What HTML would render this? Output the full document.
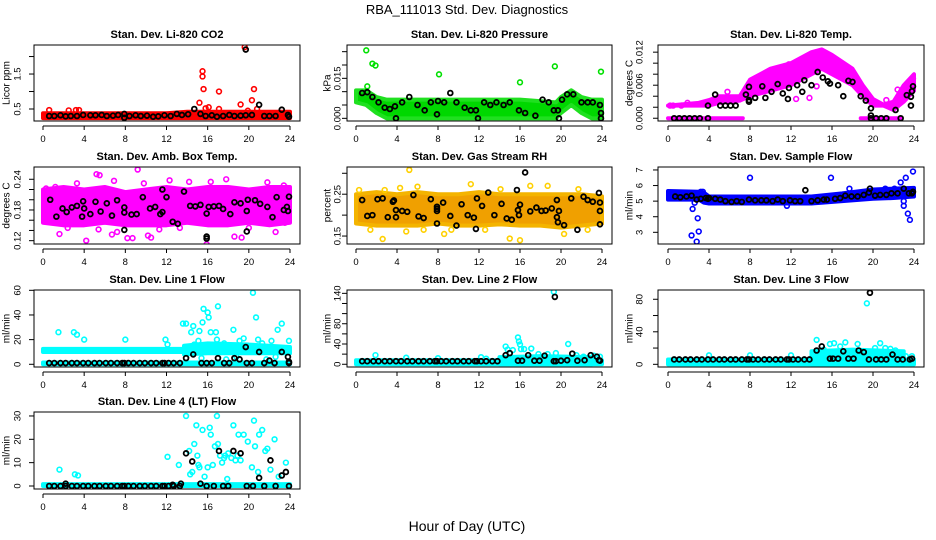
<!DOCTYPE html>
<html><head><meta charset="utf-8"><style>
html,body{margin:0;padding:0;background:#fff;}
svg{display:block;font-family:"Liberation Sans",sans-serif;}
</style></head><body>
<svg id="chart" width="936" height="540" viewBox="0 0 936 540">
<text x="467" y="14" text-anchor="middle" font-size="13">RBA_111013  Std. Dev. Diagnostics</text>
<text x="467" y="531" text-anchor="middle" font-size="14">Hour of Day (UTC)</text>
</svg>
<script>
// ---------- data ----------
const xTicks=[0,4,8,12,16,20,24];
const xTickLabels=['0','4','8','12','16','20','24'];
const regHours=[0.6,1.1,1.7,2.2,2.8,3.3,3.9,4.4,5.0,5.5,6.1,6.6,7.2,7.7,7.9,8.3,8.8,9.4,9.9,10.5,11.0,11.6,11.8,12.2,12.7,13.3];

// P1 CO2
const co2Ticks=[0.5,1,1.5,2];
const co2TickLabels=['0.5','','1.5',''];
const co2BandX=[0,12,14,24], co2BandLo=[0.24,0.24,0.24,0.24], co2BandHi=[0.38,0.38,0.42,0.42];
const co2Pts=[[0.6,0.47],[2.5,0.46],[3.2,0.47],[3.5,0.47],[15.2,0.68],[15.5,1.43],[15.5,1.58],[15.6,1.07],[15.8,0.52],[16.1,0.55],[17.1,1.0],[17.1,0.5],[19.2,0.63],[19.6,2.27],[20.3,0.75],[20.5,1.07],[20.8,0.5],[19.9,0.45]];
const co2Blk=[[0.6,0.3],[1.1,0.3],[1.7,0.32],[2.2,0.29],[2.7,0.3],[3.3,0.3],[3.9,0.33],[4.6,0.32],[5.1,0.32],[5.7,0.33],[6.2,0.3],[6.8,0.31],[7.3,0.33],[7.9,0.36],[7.9,0.25],[8.4,0.3],[9,0.32],[9.5,0.3],[10.1,0.31],[10.7,0.28],[11.2,0.29],[11.8,0.32],[12.4,0.3],[13,0.36],[13.5,0.33],[14.1,0.35],[14.7,0.5],[15.3,0.36],[15.8,0.3],[16.4,0.32],[16.9,0.28],[17.5,0.3],[18.1,0.33],[18.6,0.3],[19.2,0.31],[19.7,2.2],[19.7,0.32],[20.3,0.33],[21,0.62],[21.5,0.3],[22,0.3],[22.6,0.3],[23.2,0.48],[23.8,0.33],[23.9,0.28]];

// P2 Pressure
const presTicks=[0,0.005,0.01,0.015,0.02,0.025];
const presTickLabels=['0.000','','','0.015','',''];
const presBandX=[0,1,2,3,4,8,12,16,19.5,20,21,22,23,24];
const presBandLo=[0.006,0.005,0.002,0,0,0,0,0,0,0.002,0.005,0.002,0,0];
const presBandHi=[0.0105,0.0105,0.008,0.007,0.007,0.007,0.007,0.007,0.006,0.008,0.0105,0.008,0.007,0.007];
const presPts=[[1,0.0255],[1.1,0.012],[1.6,0.0205],[1.9,0.0198],[8.1,0.0165],[16,0.0135],[19.4,0.0195],[23.9,0.0175]];
const presBlk=[[0.6,0.0095],[1.1,0.0098],[1.6,0.008],[2.2,0.006],[2.8,0.004],[3.3,0.0035],[3.8,0.0045],[3.9,0],[4.5,0.006],[5.2,0.008],[6,0.005],[6.7,0.003],[7.3,0.006],[7.9,0.0015],[8,0.0065],[8.6,0.006],[9.2,0.0095],[9.8,0.006],[10.6,0.004],[11.2,0.003],[11.7,0.003],[11.9,0],[12.5,0.006],[13.1,0.005],[13.7,0.006],[14.4,0.005],[15,0.006],[15.9,0.003],[16.5,0.002],[17.5,0.001],[18.2,0.007],[18.8,0.006],[19.3,0.003],[19.7,0.003],[19.8,0],[20.1,0.007],[20.6,0.009],[21.2,0.009],[22,0.006],[22.6,0.006],[23.1,0.006],[23.8,0.005],[23.9,0.002],[23.9,0]];

// P3 Li-820 Temp
const tempTicks=[0,0.002,0.004,0.006,0.008,0.010,0.012];
const tempTickLabels=['0.000','','','0.006','','','0.012'];
const tempBandX=[0,3,4,5,7,8,10,12,14,15,16,18,19,20,21,22,23,24];
const tempBandLo=[0.0023,0.0023,0.0023,0.0028,0.0032,0.004,0.005,0.006,0.008,0.009,0.008,0.006,0.004,0.0023,0.0023,0.0015,0.003,0.005];
const tempBandHi=[0.0023,0.0028,0.0033,0.004,0.004,0.007,0.009,0.010,0.012,0.0125,0.0115,0.009,0.006,0.0035,0.0025,0.003,0.006,0.008];
const tempZeroX=[0,7.3], tempZeroLo=[0,0], tempZeroHi=[0,0];
const tempZero2X=[18.8,22.7], tempZero2Lo=[0,0], tempZero2Hi=[0,0];
const tempPts=[[0.2,0.0023],[0.5,0.0023],[1.3,0.0023],[1.9,0.0028],[5.8,0.0048],[8.5,0.0068],[9.3,0.0078],[11.6,0.0088],[11.8,0.0098],[12.5,0.0035],[13.8,0.0037],[14.5,0.0058],[19.6,0.0035],[20.2,0.0028],[21.3,0.0033],[22.4,0.0052],[23.9,0.0072]];
const tempBlk=[[0.6,0],[1.1,0],[1.6,0],[2.1,0],[2.6,0],[3.1,0],[3.9,0],[3.9,0.0023],[4.6,0.0043],[5.1,0.0023],[5.6,0.0023],[6.1,0.0023],[6.6,0.0023],[7.6,0.0043],[7.9,0.003],[7.9,0.0033],[7.9,0.0057],[8.5,0.0037],[9.2,0.0058],[9.5,0.0037],[10.1,0.0048],[10.7,0.0062],[11.2,0.0045],[11.7,0.0035],[11.8,0.0055],[12.6,0.006],[13.1,0.0048],[13.3,0.0069],[14,0.006],[14.6,0.0084],[15.1,0.0074],[15.6,0.0067],[15.8,0.0063],[16.6,0.006],[17.1,0.004],[17.6,0.0068],[18,0.0066],[18.8,0.004],[19.3,0.0032],[19.8,0.0018],[19.8,0.0005],[19.8,0],[20.3,0],[20.8,0],[21.3,0],[22.2,0.0015],[22.7,0],[23.3,0.0042],[23.7,0.0023],[23.7,0.0039],[23.8,0.0049],[23.9,0.0058]];

// P4 Amb Box Temp
const ambTicks=[0.12,0.14,0.16,0.18,0.20,0.22,0.24];
const ambTickLabels=['0.12','','','0.18','','','0.24'];
const ambBandX=[0,2,4,6,8,10,12,14,16,18,20,22,24];
const ambBandLo=[0.155,0.15,0.15,0.155,0.15,0.15,0.15,0.155,0.15,0.15,0.155,0.15,0.155];
const ambBandHi=[0.22,0.225,0.22,0.225,0.215,0.22,0.225,0.22,0.225,0.225,0.22,0.225,0.225];
const ambPts=[[0.3,0.222],[1.2,0.225],[1.6,0.133],[3.3,0.232],[4.2,0.12],[5.2,0.25],[5.5,0.248],[6.7,0.132],[7.2,0.137],[8.2,0.125],[8.7,0.125],[9.2,0.259],[10.2,0.13],[10.5,0.126],[12.3,0.238],[13.8,0.105],[14.2,0.235],[15.9,0.113],[16.3,0.235],[17.8,0.24],[18.6,0.128],[19.3,0.126],[21.8,0.234],[22.6,0.137],[23.4,0.228],[23.7,0.223],[23.5,0.155],[2.4,0.145],[5.4,0.142],[11.3,0.142],[13.3,0.145],[20,0.145],[9.8,0.232],[6.9,0.237]];
const ambBlk=[[0.7,0.2],[1.3,0.167],[1.9,0.183],[2.3,0.176],[2.8,0.185],[3.3,0.188],[3.8,0.167],[3.9,0.197],[4.0,0.183],[4.6,0.172],[5.1,0.196],[5.6,0.177],[6.2,0.193],[6.7,0.169],[7.2,0.199],[7.9,0.141],[7.9,0.175],[7.9,0.185],[8.6,0.171],[9.1,0.172],[9.7,0.205],[10.4,0.183],[10.9,0.186],[11.4,0.172],[11.6,0.176],[11.6,0.22],[12,0.205],[12.6,0.157],[13.1,0.153],[13.7,0.216],[14.3,0.188],[14.8,0.187],[15.3,0.19],[15.9,0.124],[15.9,0.128],[15.9,0.173],[16.1,0.186],[16.6,0.187],[17.1,0.188],[17.5,0.182],[18.2,0.172],[18.6,0.195],[19.2,0.193],[19.8,0.178],[19.8,0.138],[19.9,0.2],[20.6,0.199],[21.1,0.192],[21.8,0.186],[22.3,0.166],[22.7,0.205],[23.4,0.18],[23.7,0.186],[23.8,0.178],[23.9,0.206]];

// P5 Gas Stream RH
const rhTicks=[0.15,0.20,0.25,0.30];
const rhTickLabels=['0.15','','0.25',''];
const rhBandX=[0,2,4,6,8,10,12,14,16,18,20,22,24];
const rhBandLo=[0.18,0.175,0.175,0.175,0.18,0.175,0.175,0.178,0.175,0.175,0.17,0.175,0.18];
const rhBandHi=[0.25,0.255,0.25,0.255,0.25,0.25,0.255,0.25,0.25,0.25,0.25,0.25,0.245];
const rhPts=[[5.2,0.308],[1.4,0.165],[2.6,0.143],[4.9,0.161],[6.0,0.268],[8.6,0.155],[11.2,0.274],[16.0,0.14],[15.0,0.144],[17.0,0.27],[18.7,0.27],[20.3,0.155],[21.7,0.262],[22.6,0.165],[0.3,0.26],[2.8,0.26],[14.1,0.262],[6.6,0.165],[9.3,0.165],[12.6,0.165],[4.3,0.265]];
const rhBlk=[[0.6,0.236],[1.1,0.198],[1.6,0.2],[2.1,0.238],[2.6,0.24],[3.1,0.195],[3.6,0.232],[3.7,0.235],[3.9,0.195],[3.9,0.212],[4.5,0.21],[5.0,0.208],[5.6,0.248],[6.1,0.197],[6.6,0.193],[7.3,0.238],[7.9,0.18],[7.9,0.21],[7.9,0.215],[7.9,0.22],[8.5,0.23],[9.2,0.198],[9.8,0.175],[10.3,0.226],[10.9,0.2],[11.5,0.194],[11.7,0.167],[11.8,0.24],[12.3,0.222],[12.9,0.254],[13.5,0.2],[14.2,0.227],[14.7,0.192],[15.2,0.189],[15.7,0.26],[15.8,0.212],[15.9,0.2],[16.0,0.225],[16.5,0.302],[17.0,0.209],[17.6,0.218],[18.1,0.21],[18.5,0.211],[19.1,0.216],[19.6,0.236],[19.6,0.195],[19.7,0.183],[19.8,0.21],[20.3,0.176],[21.0,0.24],[21.6,0.165],[22.2,0.244],[22.6,0.236],[23.1,0.232],[23.7,0.253],[23.8,0.23],[23.8,0.21],[23.8,0.178]];

// P6 Sample Flow
const sfTicks=[3,4,5,6,7];
const sfTickLabels=['3','4','5','6','7'];
const sfBandX=[0,3,3.5,4,14,17,20,22,24];
const sfBandLo=[5.1,5.1,4.9,4.85,4.85,5.0,5.15,5.2,5.3];
const sfBandHi=[5.65,5.6,5.55,5.3,5.3,5.5,5.75,5.8,5.85];
const sfPts=[[2.3,2.8],[2.4,4.5],[2.6,4.9],[2.8,2.4],[2.9,3.9],[3.0,3.05],[3.2,5.6],[3.4,5.6],[8.0,6.5],[11.6,4.7],[15.9,6.5],[17.7,5.8],[21.2,5.8],[22.1,5.8],[22.7,6.2],[23,4.7],[23,5],[23.2,6.5],[23.4,4.2],[23.6,3.8],[23.9,6.9]];
const sfBlk=[[0.7,5.3],[1.2,5.25],[1.8,5.3],[2.3,5.35],[2.8,5.1],[3.2,5.15],[3.7,5.2],[3.9,5.15],[4.0,5.2],[4.6,5.15],[5.1,5.1],[5.6,5.0],[6.2,4.95],[6.7,5.0],[7.2,4.95],[7.9,5.1],[8.5,5.05],[9.1,5.05],[9.6,5.05],[10.2,5.0],[10.7,5.1],[11.2,5.0],[11.9,5.05],[12.4,5.0],[12.9,5.0],[13.4,5.7],[14.0,5.0],[14.6,5.05],[15.2,5.1],[15.5,5.1],[16.3,5.15],[16.8,5.2],[17.3,5.35],[17.9,5.3],[18.5,5.3],[19.1,5.4],[19.6,5.55],[19.7,5.8],[20.2,5.35],[20.7,5.4],[21.3,5.4],[21.8,5.5],[22.4,5.5],[23.0,5.8],[23.5,5.5],[23.8,5.5],[23.9,5.6]];

// P7 Line 1 Flow
const l1Ticks=[0,20,40,60];
const l1TickLabels=['0','20','40','60'];
const l1BandAX=[0,13.7], l1BandALo=[10,10], l1BandAHi=[12.5,12.5];
const l1BandBX=[13.7,16,20,24], l1BandBLo=[8,9,9,9], l1BandBHi=[15,17,16,14];
const l1BandCX=[0,24], l1BandCLo=[0,0], l1BandCHi=[1.5,1.5];
const l1Pts=[[1.5,26],[3.0,26],[3.3,24],[4.0,20],[8.0,20],[11.9,20],[12.1,16],[13.6,33],[14.6,31],[14.7,16],[15.1,19],[15.2,27],[15.5,34],[15.6,45],[16.0,42],[16.1,38],[16.3,26],[16.8,26],[17.0,47],[17.6,17],[18.5,28],[19.1,19],[19.5,21],[20.4,58],[20.7,38],[20.9,20],[21.3,17],[22.2,19],[22.8,28],[23.2,33],[23.9,19],[16.9,20],[19.9,14],[14.4,26],[13.9,33],[15.4,5],[17.8,4],[18.8,6],[21.7,4],[22.6,6]];
const l1Blk=[[13.9,5],[14.6,8],[15.4,1],[15.9,1],[16.4,1],[17,5],[17.6,1],[18.1,1],[18.6,5],[19.1,4],[19.7,14],[19.8,1],[20.3,1],[21,10],[21.5,1],[22,3],[22.5,1],[23.2,10],[23.8,6],[23.9,1],[23.9,2]];
const l1RegY=1;

// P8 Line 2 Flow
const l2Ticks=[0,20,40,60,80,100,120,140];
const l2TickLabels=['0','','40','','80','','','140'];
const l2BandAX=[0,24], l2BandALo=[0,0], l2BandAHi=[8,8];
const l2BandBX=[14,18,23], l2BandBLo=[0,0,0], l2BandBHi=[14,16,14];
const l2Pts=[[1.9,18],[4.9,13],[8.0,12],[12.2,14],[12.7,11],[14.6,35],[14.8,29],[15.3,28],[15.8,53],[15.9,45],[16.0,39],[16.1,30],[16.4,30],[17.1,31],[17.8,20],[18.7,20],[19.3,143],[19.5,22],[20.7,40],[21.5,18],[22.2,15],[23.2,17],[23.8,15]];
const l2Blk=[[13.8,6],[14.6,18],[15.0,22],[15.8,7],[16.2,7],[16.8,18],[17.4,7],[17.9,7],[18.4,17],[19.4,133],[19.3,6],[19.5,6],[20.0,7],[20.6,8],[21.1,21],[21.6,7],[22.3,8],[22.9,18],[23.5,15],[23.7,8],[23.8,7]];
const l2RegY=6;

// P9 Line 3 Flow
const l3Ticks=[0,20,40,60,80];
const l3TickLabels=['0','','40','','80'];
const l3BandAX=[0,24], l3BandALo=[0,0], l3BandAHi=[6,6];
const l3BandBX=[14,18,23], l3BandBLo=[0,0,0], l3BandBHi=[16,18,16];
const l3Pts=[[4,11],[8,11],[12,11],[14.5,30],[15.2,18],[15.8,25],[16.2,26],[16.8,22],[17.3,27],[18.5,25],[19.4,75],[20.2,20],[20.7,26],[21.2,20],[21.7,19],[22.2,17],[23.2,10],[23.8,10],[19.7,15],[14.7,14]];
const l3Blk=[[13.8,6],[14.5,17],[15.0,22],[15.8,7],[16.1,7],[16.6,7],[17.1,16],[17.6,7],[18.1,7],[18.6,17],[19.1,15],[19.7,88],[19.6,6],[20.3,6],[20.8,6],[21.3,6],[21.9,12],[22.4,6],[22.9,6],[23.6,6],[23.8,7]];
const l3RegY=6;

// P10 Line 4 (LT) Flow
const l4Ticks=[0,10,20,30];
const l4TickLabels=['0','10','20','30'];
const l4BandAX=[0,24], l4BandALo=[0,0], l4BandAHi=[0.8,0.8];
const l4Pts=[[1.6,7],[3.1,5],[3.4,4.5],[12.1,12.5],[13.2,9],[13.9,30],[14.2,15],[14.5,6],[14.7,18],[14.9,26],[15.0,13],[15.2,8],[15.5,24],[15.7,4],[16.2,25],[16.3,22],[16.5,9],[16.7,17],[16.9,30],[17.0,18],[17.2,13],[17.4,10],[17.6,12],[17.9,3],[18.0,14],[18.5,26],[18.7,11],[19.0,22],[19.2,11],[19.5,22],[19.9,19],[20.3,8],[20.5,28],[20.6,17],[20.9,6],[21.0,22],[21.3,24],[21.6,15],[21.8,16],[22.1,7],[22.5,20],[22.9,4],[23.6,10],[14.3,5],[15.1,9],[16.0,8],[17.7,13],[18.3,12],[18.9,13]];
const l4Blk=[[2.2,1],[12.6,0.5],[13.4,1],[13.9,14],[14.5,10.5],[15.3,1],[15.9,0],[16.6,0],[17.1,15],[17.5,0],[18.0,0],[18.5,15],[19.2,14],[19.8,0],[20.4,0],[21.0,3.5],[21.5,0],[22.1,11],[22.6,0],[23.2,4.5],[23.6,6],[23.9,0]];
const l4RegY=0;

// ---------- layout ----------
const cols=[{l:34,r:300,x0:43,x24:290,tk:18,yl:7},{l:347,r:612,x0:356,x24:602,tk:338,yl:328},{l:658,r:924,x0:668,x24:914,tk:640,yl:630}];
const rows=[{t:45,b:121},{t:167,b:244},{t:290,b:367},{t:412,b:489}];

const panels=[
 {name:'co2',title:'Stan. Dev. Li-820 CO2',ylab:'Licor ppm',c:0,r:0,ymin:0.157,ymax:2.33,ticks:co2Ticks,labels:co2TickLabels,color:'#ff0000',fill:'#ff0000',bands:[[co2BandX,co2BandLo,co2BandHi]],pts:co2Pts,blk:co2Blk},
 {name:'pressure',title:'Stan. Dev. Li-820 Pressure',ylab:'kPa',c:1,r:0,ymin:-0.001,ymax:0.0275,ticks:presTicks,labels:presTickLabels,color:'#00e000',fill:'#00d800',bandStroke:'#20e020',bands:[[presBandX,presBandLo,presBandHi]],pts:presPts,blk:presBlk},
 {name:'li820-temp',title:'Stan. Dev. Li-820 Temp.',ylab:'degrees C',c:2,r:0,ymin:-0.0005,ymax:0.0133,ticks:tempTicks,labels:tempTickLabels,color:'#ff00ff',fill:'#ff00ff',bands:[[tempBandX,tempBandLo,tempBandHi],[tempZeroX,tempZeroLo,tempZeroHi],[tempZero2X,tempZero2Lo,tempZero2Hi]],pts:tempPts,blk:tempBlk},
 {name:'amb-box-temp',title:'Stan. Dev. Amb. Box Temp.',ylab:'degrees C',c:0,r:1,ymin:0.1135,ymax:0.264,ticks:ambTicks,labels:ambTickLabels,color:'#ff00ff',fill:'#ff00ff',bands:[[ambBandX,ambBandLo,ambBandHi]],pts:ambPts,blk:ambBlk},
 {name:'gas-stream-rh',title:'Stan. Dev. Gas Stream RH',ylab:'percent',c:1,r:1,ymin:0.131,ymax:0.315,ticks:rhTicks,labels:rhTickLabels,color:'#ffd000',fill:'#f0a000',bandStroke:'#f4b400',bands:[[rhBandX,rhBandLo,rhBandHi]],pts:rhPts,blk:rhBlk},
 {name:'sample-flow',title:'Stan. Dev. Sample Flow',ylab:'ml/min',c:2,r:1,ymin:2.25,ymax:7.19,ticks:sfTicks,labels:sfTickLabels,color:'#0000ff',fill:'#0000ff',bands:[[sfBandX,sfBandLo,sfBandHi]],pts:sfPts,blk:sfBlk},
 {name:'line1-flow',title:'Stan. Dev. Line 1 Flow',ylab:'ml/min',c:0,r:2,ymin:-2.2,ymax:60.25,ticks:l1Ticks,labels:l1TickLabels,color:'#00ffff',fill:'#00ffff',bands:[[l1BandAX,l1BandALo,l1BandAHi],[l1BandBX,l1BandBLo,l1BandBHi],[l1BandCX,l1BandCLo,l1BandCHi]],pts:l1Pts,blk:l1Blk,regY:l1RegY},
 {name:'line2-flow',title:'Stan. Dev. Line 2 Flow',ylab:'ml/min',c:1,r:2,ymin:-5.4,ymax:146.6,ticks:l2Ticks,labels:l2TickLabels,color:'#00ffff',fill:'#00ffff',bands:[[l2BandAX,l2BandALo,l2BandAHi],[l2BandBX,l2BandBLo,l2BandBHi]],pts:l2Pts,blk:l2Blk,regY:l2RegY},
 {name:'line3-flow',title:'Stan. Dev. Line 3 Flow',ylab:'ml/min',c:2,r:2,ymin:-3.3,ymax:91.4,ticks:l3Ticks,labels:l3TickLabels,color:'#00ffff',fill:'#00ffff',bands:[[l3BandAX,l3BandALo,l3BandAHi],[l3BandBX,l3BandBLo,l3BandBHi]],pts:l3Pts,blk:l3Blk,regY:l3RegY},
 {name:'line4-flow',title:'Stan. Dev. Line 4 (LT) Flow',ylab:'ml/min',c:0,r:3,ymin:-1.29,ymax:31.7,ticks:l4Ticks,labels:l4TickLabels,color:'#00ffff',fill:'#00ffff',bands:[[l4BandAX,l4BandALo,l4BandAHi]],pts:l4Pts,blk:l4Blk,regY:l4RegY}
];

const NS='http://www.w3.org/2000/svg';
const svg=document.getElementById('chart');
function mk(tag,attrs,parent){const e=document.createElementNS(NS,tag);for(const k in attrs)e.setAttribute(k,attrs[k]);parent.appendChild(e);return e;}
function xScale(p,v){const c=cols[p.c];return c.x0+(v/24)*(c.x24-c.x0);}
function yScale(p,v){const r=rows[p.r];return r.b-(v-p.ymin)/(p.ymax-p.ymin)*(r.b-r.t);}

panels.forEach(p=>{
  const c=cols[p.c], r=rows[p.r];
  const g=mk('g',{},svg);
  
  
  const clipId='clip-'+p.name;
  const cp=mk('clipPath',{id:clipId},g);
  mk('rect',{x:c.l,y:r.t,width:c.r-c.l,height:r.b-r.t},cp);
  const t=mk('text',{x:(c.l+c.r)/2,y:r.t-7,'text-anchor':'middle','font-size':'11','font-weight':'bold'},g);
  t.textContent=p.title;
  
  
  const yl=mk('text',{x:c.yl,y:(r.t+r.b)/2,'text-anchor':'middle','font-size':'10',transform:`rotate(-90 ${c.yl} ${(r.t+r.b)/2})`,'dominant-baseline':'central'},g);
  yl.textContent=p.ylab;
  
  
  const plot=mk('g',{'clip-path':`url(#${clipId})`},g);
  
  
  p.bands.forEach(b=>{
    const [X,Lo,Hi]=b;
    const ptsA=[];
    for(let i=0;i<X.length;i++)ptsA.push(xScale(p,X[i])+','+yScale(p,Hi[i]));
    for(let i=X.length-1;i>=0;i--)ptsA.push(xScale(p,X[i])+','+yScale(p,Lo[i]));
    const poly=mk('polygon',{points:ptsA.join(' '),fill:p.fill,stroke:p.bandStroke||p.color,'stroke-width':4,'stroke-linejoin':'round'},plot);
    
    
  });
  p.pts.forEach(d=>{
    const ci=mk('circle',{cx:xScale(p,d[0]),cy:yScale(p,d[1]),r:2.4,fill:'none',stroke:p.color,'stroke-width':1.6},plot);
    
    
  });
  const blk=p.regY!==undefined?regHours.map(h=>[h,p.regY]).concat(p.blk):p.blk;
  blk.forEach(d=>{
    const ci=mk('circle',{cx:xScale(p,d[0]),cy:yScale(p,d[1]),r:2.4,fill:'none',stroke:'#000','stroke-width':1.8},plot);
    
    
  });
  const box=mk('rect',{x:c.l,y:r.t,width:c.r-c.l,height:r.b-r.t,fill:'none',stroke:'#000','stroke-width':1},g);
  
  
  const xa=mk('g',{},g);
  
  
  mk('line',{x1:xScale(p,0),x2:xScale(p,24),y1:r.b+5,y2:r.b+5,stroke:'#000'},xa);
  xTicks.forEach((v,i)=>{
    const x=xScale(p,v);
    mk('line',{x1:x,x2:x,y1:r.b+5,y2:r.b+9,stroke:'#000'},xa);
    const tl=mk('text',{x:x,y:r.b+21,'text-anchor':'middle','font-size':'9.5'},xa);
    tl.textContent=xTickLabels[i];
    
    
  });
  const ya=mk('g',{},g);
  
  
  p.ticks.forEach((v,i)=>{
    const y=yScale(p,v);
    mk('line',{x1:c.l-5,x2:c.l,y1:y,y2:y,stroke:'#000'},ya);
    if(p.labels[i]){
      const tl=mk('text',{x:c.tk,y:y,'text-anchor':'middle','font-size':'9.5','dominant-baseline':'central',transform:`rotate(-90 ${c.tk} ${y})`},ya);
      tl.textContent=p.labels[i];
      
      
    }
  });
});
</script>
</body></html>
